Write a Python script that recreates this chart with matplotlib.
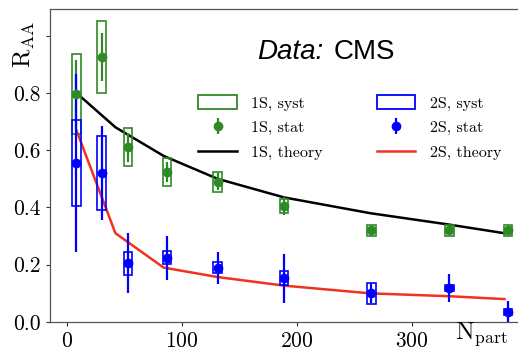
import numpy as np
import matplotlib
matplotlib.use('Agg')
import matplotlib.pyplot as plt
from matplotlib.patches import Patch
from matplotlib.lines import Line2D
from matplotlib.container import ErrorbarContainer
from matplotlib.collections import LineCollection

plt.rcParams['mathtext.fontset'] = 'cm'
plt.rcParams['font.family'] = 'serif'
plt.rcParams['font.serif'] = ['cmr10']
plt.rcParams['axes.formatter.use_mathtext'] = True

# measured points
npart = [8, 30, 53, 87, 131, 189, 265, 333, 384]
raa_1s = [0.796, 0.925, 0.61, 0.524, 0.49, 0.405, 0.32, 0.32, 0.32]
stat_1s = [0.12, 0.085, 0.05, 0.035, 0.03, 0.033, 0.015, 0.015, 0.015]
syst_1s = [0.14, 0.125, 0.066, 0.048, 0.035, 0.025, 0.02, 0.02, 0.02]
raa_2s = [0.555, 0.52, 0.205, 0.225, 0.19, 0.153, 0.10, 0.118, 0.034]
stat_2s = [0.31, 0.165, 0.105, 0.077, 0.056, 0.085, 0.035, 0.048, 0.04]
syst_2s = [0.15, 0.128, 0.04, 0.024, 0.02, 0.025, 0.036, 0.01, 0.01]

# theory curves
npart_th = [8, 42, 84, 131, 189, 264, 333, 381]
th_1s = [0.80, 0.68, 0.58, 0.50, 0.435, 0.38, 0.34, 0.31]
th_2s = [0.67, 0.31, 0.19, 0.157, 0.127, 0.10, 0.09, 0.08]

green = '#2f8a25'
blue = '#0000ff'
red = '#f0321e'

fig = plt.figure(figsize=(5.18, 3.56), dpi=100)
ax = fig.add_axes([50/518, 34/356, 474/518, 313/356])

ax.plot(npart_th, th_1s, color='black', lw=1.8, zorder=2)
ax.plot(npart_th, th_2s, color=red, lw=1.8, zorder=2)

# systematic boxes
w = 7.5
lo1 = np.array(raa_1s) - np.array(syst_1s)
ax.bar(npart, 2*np.array(syst_1s), bottom=lo1, width=w, fill=False,
       edgecolor=green, linewidth=1.2, zorder=3)
lo2 = np.array(raa_2s) - np.array(syst_2s)
ax.bar(npart, 2*np.array(syst_2s), bottom=lo2, width=w, fill=False,
       edgecolor=blue, linewidth=1.2, zorder=3)

# statistical errors
ax.errorbar(npart, raa_1s, yerr=stat_1s, fmt='o', color=green, ms=6,
            elinewidth=1.6, capsize=0, zorder=4)
ax.errorbar(npart, raa_2s, yerr=stat_2s, fmt='o', color=blue, ms=6,
            elinewidth=1.6, capsize=0, zorder=4)

ax.set_xlim(-15, 398)
ax.set_ylim(0, 1.093)
ax.set_xticks([0, 100, 200, 300])
ax.set_yticks([0, 0.2, 0.4, 0.6, 0.8, 1.0])
ax.set_yticklabels(['0.0', '0.2', '0.4', '0.6', '0.8', ''])
ax.tick_params(labelsize=15.5, direction='out', length=3, width=0.8,
               colors='#333333', labelcolor='black')
for s in ax.spines.values():
    s.set_color('#555555')
    s.set_linewidth(0.9)
ax.spines['right'].set_visible(False)

fig.text(24/518, 1 - 44/356, r'$\mathrm{R}_{\mathrm{AA}}$', rotation=90,
         fontsize=18, ha='center', va='center')
fig.text(455/518, 1 - 339/356, r'$\mathrm{N}_{\mathrm{part}}$',
         fontsize=18, ha='left', va='baseline')

fig.text(257/518, 1 - 52/356, 'Data:', fontsize=20, style='italic',
         family='Liberation Sans', va='center', ha='left')
fig.text(334/518, 1 - 52/356, 'CMS', fontsize=20,
         family='Liberation Sans', va='center', ha='left')

def ebh(c):
    lc = LineCollection([], colors=c, linewidths=1.6)
    return ErrorbarContainer((Line2D([], [], color=c, marker='o', ms=6, lw=0), (), (lc,)),
                             has_xerr=False, has_yerr=True)

handles = [Patch(facecolor='none', edgecolor=green, linewidth=1.3), ebh(green),
           Line2D([], [], color='black', lw=1.8),
           Patch(facecolor='none', edgecolor=blue, linewidth=1.3), ebh(blue),
           Line2D([], [], color=red, lw=1.8)]
labels = ['1S, syst', '1S, stat', '1S, theory', '2S, syst', '2S, stat', '2S, theory']
ax.legend(handles, labels, ncol=2, frameon=False, fontsize=11.5,
          loc='upper left', bbox_to_anchor=(184/518, 1 - 81/356),
          bbox_transform=fig.transFigure, handlelength=2.4,
          handleheight=0.9, handletextpad=0.9, columnspacing=3.4,
          labelspacing=0.6)

fig.savefig('out.png', dpi=100)
